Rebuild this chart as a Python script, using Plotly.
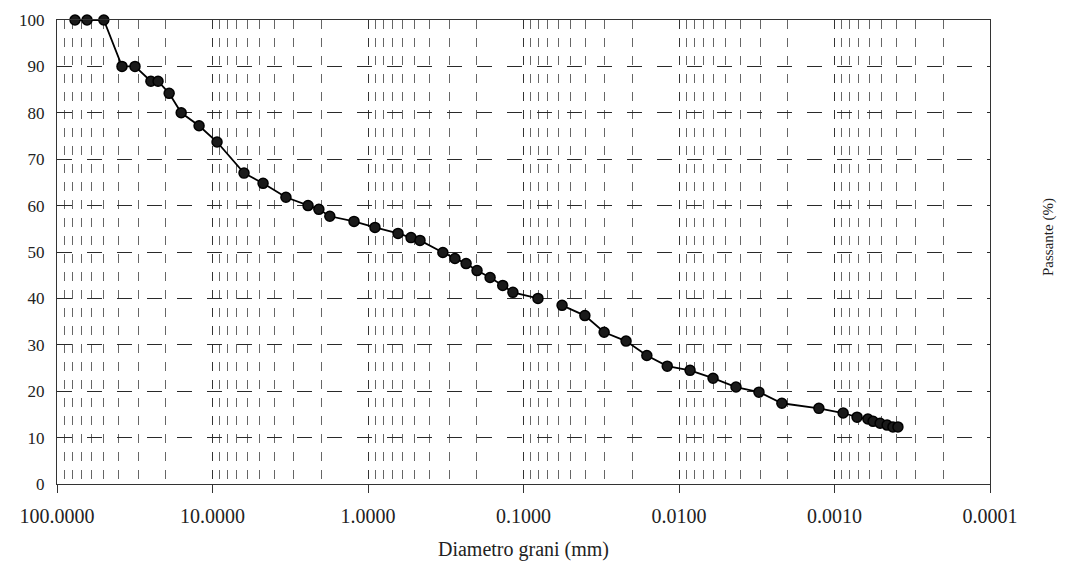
import plotly.graph_objects as go

# Sieve analysis (setacciatura)
sieve_d = [76.6, 64.1, 50.0, 38.2, 31.5, 24.9, 22.4, 19.0, 15.9, 12.2, 9.35, 6.27,
           4.73, 3.37, 2.43, 2.07, 1.76, 1.23, 0.902, 0.641, 0.529, 0.463, 0.330,
           0.276, 0.234, 0.199, 0.164, 0.136, 0.117, 0.0807]
sieve_p = [100, 100, 100, 90, 90, 86.8, 86.8, 84.2, 80, 77.2, 73.7, 67,
           64.8, 61.8, 60.0, 59.2, 57.7, 56.6, 55.3, 54.0, 53.1, 52.5, 49.9,
           48.6, 47.5, 46.0, 44.5, 42.8, 41.3, 40.0]

# Sedimentation analysis (aerometria)
sed_d = [0.0565, 0.0403, 0.0303, 0.0219, 0.0161, 0.0119, 0.00849, 0.00604,
         0.00430, 0.00306, 0.00218, 0.00126, 0.00088, 0.000716, 0.000610,
         0.000565, 0.000509, 0.000459, 0.000421, 0.000391]
sed_p = [38.5, 36.3, 32.7, 30.8, 27.7, 25.4, 24.5, 22.8,
         20.9, 19.8, 17.4, 16.3, 15.3, 14.4, 14.0,
         13.5, 13.1, 12.7, 12.3, 12.3]

y_ticks = list(range(0, 101, 10))
x_ticks = [100, 10, 1, 0.1, 0.01, 0.001, 0.0001]
x_labels = ["100.0000", "10.0000", "1.0000", "0.1000", "0.0100", "0.0010", "0.0001"]

FONT = "Liberation Serif"
marker = dict(symbol="circle", size=10, color="#1a1a1a", line=dict(color="#000000", width=1.5))
line = dict(color="#000000", width=1.8)

fig = go.Figure()
fig.add_trace(go.Scatter(x=sieve_d, y=sieve_p, mode="lines+markers", marker=marker,
                         line=line, showlegend=False, cliponaxis=False))
fig.add_trace(go.Scatter(x=sed_d, y=sed_p, mode="lines+markers", marker=marker,
                         line=line, showlegend=False, cliponaxis=False))

fig.update_layout(
    width=1050, height=553,
    margin=dict(l=49, r=68, t=12, b=77),
    paper_bgcolor="white", plot_bgcolor="white",
    font=dict(family=FONT, size=17, color="#222222"),
    xaxis=dict(
        type="log", range=[2, -4], automargin=False,
        tickvals=x_ticks, ticktext=x_labels, tickfont=dict(size=20),
        showgrid=True, gridcolor="#333333", gridwidth=1, griddash="dash",
        minor=dict(dtick="D1", showgrid=True, gridcolor="#666666", gridwidth=1, griddash="dash"),
        ticks="outside", ticklen=8, tickcolor="#333333",
        ticklabelstandoff=6,
        showline=True, linecolor="#333333", mirror=True, zeroline=False,
        title=dict(text="Diametro grani (mm)", font=dict(family=FONT, size=20), standoff=22),
    ),
    yaxis=dict(
        range=[0, 100], tickvals=y_ticks, automargin=False,
        showgrid=True, gridcolor="#2a2a2a", gridwidth=1.2, griddash="longdash",
        ticks="", ticklabelstandoff=8,
        showline=True, linecolor="#333333", mirror=True, zeroline=False,
    ),
    annotations=[dict(text="Passante (%)", textangle=-90, xref="paper", yref="paper",
                      x=1.0, xanchor="center", xshift=58, y=0.5, yshift=15, showarrow=False,
                      font=dict(family=FONT, size=15, color="#222222"))],
)

fig.write_html("out.html")
